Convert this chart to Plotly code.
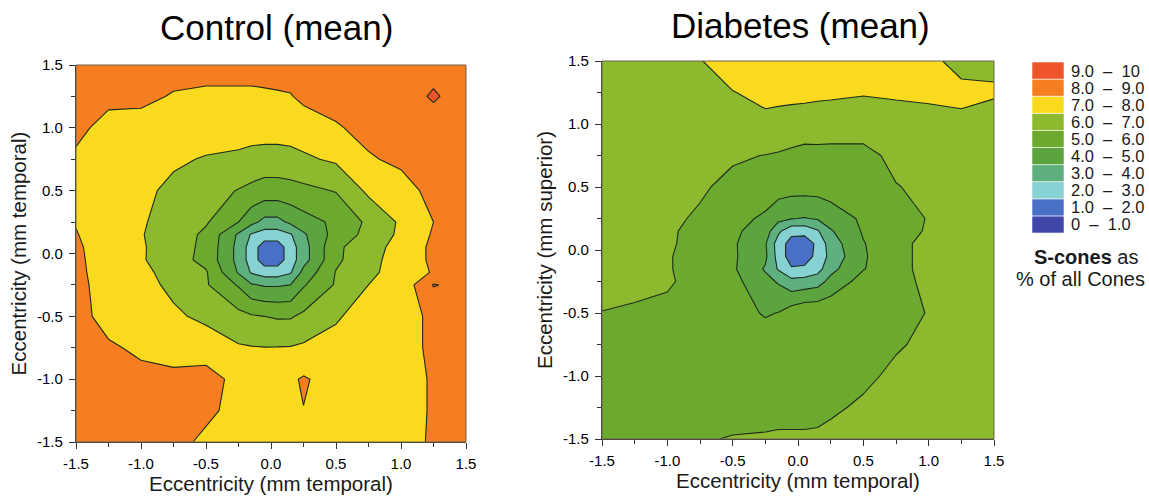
import plotly.graph_objects as go

# ---------------- data ----------------
# grid (mm); rows below are listed from the top (y = 1.5) to the bottom (y = -1.5)
X = [-1.5, -1.25, -1.0, -0.75, -0.5, -0.25, -0.15, -0.05, 0.05, 0.15, 0.25, 0.5, 0.75, 1.0, 1.25, 1.5]
Y_TOP_DOWN = [1.5, 1.25, 1.0, 0.75, 0.5, 0.25, 0.15, 0.05, -0.05, -0.15, -0.25, -0.5, -0.75, -1.0, -1.25, -1.5]

# S-cones as % of all cones, control eyes (mean)
control_pct = [
    [8.6, 8.6, 8.6, 8.5, 8.4, 8.4, 8.4, 8.4, 8.4, 8.4, 8.4, 8.5, 8.6, 8.6, 8.7, 8.6],
    [8.5, 8.3, 8.3, 7.9, 7.8, 7.8, 7.8, 7.85, 7.9, 7.95, 8.2, 8.4, 8.5, 8.6, 9.1, 8.6],
    [8.3, 7.6, 7.5, 7.4, 7.35, 7.35, 7.4, 7.5, 7.5, 7.5, 7.5, 7.9, 8.3, 8.5, 8.6, 8.6],
    [7.8, 7.5, 7.3, 7.1, 6.95, 6.85, 6.7, 6.55, 6.55, 6.65, 6.85, 7.15, 7.9, 8.2, 8.5, 8.6],
    [7.7, 7.4, 7.15, 6.85, 6.4, 5.95, 5.75, 5.6, 5.6, 5.65, 5.75, 6.05, 7.2, 7.6, 8.3, 8.6],
    [7.95, 7.4, 7.1, 6.6, 6.1, 5.0, 4.3, 3.7, 3.7, 4.2, 4.6, 5.2, 6.2, 7.15, 8.0, 8.6],
    [8.05, 7.45, 7.05, 6.55, 5.8, 3.85, 2.9, 2.5, 2.5, 2.9, 3.85, 5.4, 6.3, 7.2, 8.1, 8.6],
    [8.15, 7.5, 7.1, 6.5, 5.75, 3.7, 2.5, 1.5, 1.5, 2.5, 3.6, 5.8, 6.6, 7.35, 8.2, 8.6],
    [8.2, 7.5, 7.1, 6.45, 5.7, 3.7, 2.5, 1.5, 1.5, 2.5, 3.6, 5.8, 6.75, 7.35, 8.2, 8.6],
    [8.25, 7.5, 7.2, 6.7, 6.1, 3.9, 2.9, 2.5, 2.5, 2.9, 4.3, 6.05, 6.85, 7.3, 8.1, 8.7],
    [8.3, 7.55, 7.3, 6.8, 6.1, 4.9, 4.1, 3.9, 3.9, 4.0, 4.9, 6.1, 7.0, 7.3, 9.06, 8.7],
    [8.4, 7.6, 7.3, 7.15, 6.8, 6.3, 6.1, 6.0, 5.9, 5.9, 6.2, 6.9, 7.4, 7.6, 8.2, 8.6],
    [8.5, 8.15, 7.8, 7.5, 7.5, 7.1, 7.05, 7.02, 7.03, 7.05, 7.15, 7.3, 7.5, 7.6, 8.2, 8.6],
    [8.6, 8.5, 8.3, 8.3, 8.4, 7.7, 7.6, 7.5, 7.5, 7.85, 8.1, 7.6, 7.6, 7.6, 8.1, 8.6],
    [8.6, 8.6, 8.5, 8.4, 8.2, 7.7, 7.6, 7.5, 7.5, 7.6, 7.98, 7.6, 7.6, 7.6, 8.1, 8.6],
    [8.6, 8.6, 8.6, 8.3, 7.8, 7.6, 7.5, 7.5, 7.5, 7.5, 7.6, 7.6, 7.6, 7.7, 8.1, 8.6],
]

# S-cones as % of all cones, diabetic eyes (mean)
diabetes_pct = [
    [6.6, 6.7, 6.8, 6.97, 7.3, 7.4, 7.4, 7.4, 7.4, 7.4, 7.4, 7.4, 7.35, 7.15, 6.8, 6.8],
    [6.5, 6.55, 6.6, 6.75, 6.98, 7.15, 7.15, 7.15, 7.15, 7.1, 7.1, 7.05, 7.1, 7.15, 7.15, 7.1],
    [6.4, 6.4, 6.45, 6.5, 6.7, 6.86, 6.81, 6.76, 6.71, 6.74, 6.68, 6.6, 6.68, 6.73, 6.86, 6.6],
    [6.4, 6.35, 6.3, 6.2, 6.1, 5.98, 5.9, 5.75, 5.6, 5.6, 5.6, 5.65, 6.3, 6.3, 6.4, 6.45],
    [6.4, 6.3, 6.2, 6.1, 5.8, 5.5, 5.45, 5.4, 5.4, 5.4, 5.45, 5.6, 5.95, 6.25, 6.35, 6.45],
    [6.4, 6.3, 6.15, 5.9, 5.3, 4.85, 4.3, 4.05, 3.95, 4.1, 4.5, 5.15, 5.6, 6.05, 6.3, 6.45],
    [6.45, 6.35, 6.1, 5.8, 5.2, 4.5, 3.2, 2.3, 2.3, 2.9, 3.9, 5.1, 5.6, 6.1, 6.35, 6.45],
    [6.45, 6.3, 6.1, 5.75, 5.15, 4.1, 2.5, 1.6, 1.5, 2.2, 3.5, 4.95, 5.65, 6.35, 6.4, 6.5],
    [6.45, 6.3, 6.05, 5.75, 5.15, 4.2, 2.6, 1.5, 1.5, 2.3, 3.3, 4.9, 5.65, 6.35, 6.45, 6.5],
    [6.4, 6.3, 6.05, 5.75, 5.15, 3.9, 2.9, 2.1, 2.2, 2.6, 3.7, 4.95, 5.65, 6.35, 6.45, 6.5],
    [6.3, 6.2, 6.1, 5.7, 5.3, 4.3, 3.9, 3.3, 3.4, 3.6, 4.3, 5.4, 5.7, 6.2, 6.4, 6.5],
    [5.98, 5.9, 5.8, 5.7, 5.45, 4.9, 5.03, 5.5, 5.8, 5.8, 5.8, 5.8, 5.85, 6.02, 6.3, 6.45],
    [5.8, 5.7, 5.65, 5.6, 5.55, 5.55, 5.55, 5.55, 5.55, 5.55, 5.6, 5.7, 5.9, 6.2, 6.4, 6.5],
    [5.7, 5.65, 5.6, 5.6, 5.6, 5.6, 5.6, 5.6, 5.6, 5.6, 5.65, 5.8, 6.2, 6.35, 6.45, 6.5],
    [5.7, 5.7, 5.65, 5.65, 5.65, 5.65, 5.65, 5.65, 5.65, 5.65, 5.85, 6.15, 6.3, 6.4, 6.5, 6.5],
    [5.75, 5.8, 5.85, 5.92, 6.05, 6.1, 6.15, 6.15, 6.15, 6.2, 6.25, 6.35, 6.4, 6.45, 6.5, 6.5],
]

# contour classes (percent) and their colours, lowest first
LEVEL_START, LEVEL_END, LEVEL_STEP = 0, 10, 1
BAND_LABELS = ["0  \u2013  1.0", "1.0  \u2013  2.0", "2.0  \u2013  3.0", "3.0  \u2013  4.0", "4.0  \u2013  5.0",
               "5.0  \u2013  6.0", "6.0  \u2013  7.0", "7.0  \u2013  8.0", "8.0  \u2013  9.0", "9.0  \u2013  10"]
BAND_COLORS = ["#3F47A9", "#4A6FC6", "#86D2D2", "#5FB07F", "#5BA43E",
               "#6BAA2F", "#8CB92D", "#FADA1E", "#F57E20", "#EF552A"]

TICKS = [-1.5, -1.0, -0.5, 0.0, 0.5, 1.0, 1.5]
TICK_LABELS = ["-1.5", "-1.0", "-0.5", "0.0", "0.5", "1.0", "1.5"]
MINOR_TICKS = [-1.25, -0.75, -0.25, 0.25, 0.75, 1.25]

PANEL_TITLES = ["Control (mean)", "Diabetes (mean)"]
X_TITLES = ["Eccentricity (mm temporal)", "Eccentricity (mm temporal)"]
Y_TITLES = ["Eccentricity (mm temporal)", "Eccentricity (mm superior)"]

# ---------------- figure ----------------
W, H = 1149, 496
FONT = "Liberation Sans, Arial, Helvetica, sans-serif"

Y = Y_TOP_DOWN[::-1]
Zc = control_pct[::-1]
Zd = diabetes_pct[::-1]

# stepped colour scale matching plotly's fill mapping for levels 0..10
n_levels = int((LEVEL_END - LEVEL_START) / LEVEL_STEP) + 1
cscale = [[0.0, BAND_COLORS[0]]]
for k, col in enumerate(BAND_COLORS):
    lo = (k + 0.5) / n_levels + 1e-6
    hi = (k + 1.5) / n_levels
    cscale.append([lo, col])
    cscale.append([hi, col])
cscale.append([1.0, BAND_COLORS[-1]])

contour_common = dict(
    x=X, y=Y,
    autocontour=False,
    contours=dict(start=LEVEL_START, end=LEVEL_END, size=LEVEL_STEP,
                  coloring="fill", showlines=True),
    line=dict(color="#1E2A1E", width=1.1, smoothing=0),
    colorscale=cscale,
    showscale=False,
    hoverinfo="x+y+z",
)

fig = go.Figure()
fig.add_trace(go.Contour(z=Zc, xaxis="x", yaxis="y", **contour_common))
fig.add_trace(go.Contour(z=Zd, xaxis="x2", yaxis="y2", **contour_common))

def px_x(p):
    return p / W

def px_y(p):
    return 1 - p / H

domains = [
    dict(x=[px_x(76), px_x(466)], y=[px_y(442), px_y(65)]),
    dict(x=[px_x(602), px_x(994)], y=[px_y(439), px_y(61)]),
]

axis_common = dict(
    range=[-1.5, 1.5], tickmode="array", tickvals=TICKS, ticktext=TICK_LABELS,
    ticks="outside", ticklen=6, tickwidth=1.2, tickcolor="#333333",
    minor=dict(tickmode="array", tickvals=MINOR_TICKS, ticks="outside",
               ticklen=4, tickwidth=1.2, tickcolor="#333333"),
    showline=True, linecolor="#333333", linewidth=1.2, mirror=False,
    showgrid=False, zeroline=False, automargin=False,
    tickfont=dict(family=FONT, size=15, color="#000000"),
)

layout = dict(
    width=W, height=H,
    margin=dict(l=0, r=0, t=0, b=0, autoexpand=False),
    paper_bgcolor="white", plot_bgcolor="white",
    font=dict(family=FONT, color="#111111"),
    showlegend=False,
)
for i, d in enumerate(domains):
    sx = "" if i == 0 else str(i + 1)
    layout["xaxis" + sx] = dict(axis_common, domain=d["x"], anchor="y" + sx,
                                ticklabelstandoff=2,
                                title=dict(text=X_TITLES[i], standoff=4,
                                           font=dict(family=FONT, size=20.5, color="#1a1a1a")))
    layout["yaxis" + sx] = dict(axis_common, domain=d["y"], anchor="x" + sx,
                                ticklabelstandoff=3,
                                title=dict(text=Y_TITLES[i], standoff=4,
                                           font=dict(family=FONT, size=20.5, color="#1a1a1a")))
fig.update_layout(**layout)

# thin frame on top / right of each panel
for i in range(2):
    sx = "" if i == 0 else str(i + 1)
    fig.add_shape(type="rect", xref="x" + sx + " domain", yref="y" + sx + " domain",
                  x0=0, x1=1, y0=0, y1=1, line=dict(color="#6d6352", width=1),
                  fillcolor="rgba(0,0,0,0)", layer="above")

# panel titles
title_pos = [(276, 28), (800, 25)]
for (tx, ty), t in zip(title_pos, PANEL_TITLES):
    fig.add_annotation(text=t, x=px_x(tx), y=px_y(ty), xref="paper", yref="paper",
                       showarrow=False, xanchor="center", yanchor="middle",
                       font=dict(family=FONT, size=35, color="#000000"))

# colour key
key_x0, key_x1 = 1032, 1064
key_top, key_h = 62, 17.1
for k, (col, lab) in enumerate(zip(BAND_COLORS, BAND_LABELS)):
    top = key_top + (len(BAND_COLORS) - 1 - k) * key_h
    fig.add_shape(type="rect", xref="paper", yref="paper",
                  x0=px_x(key_x0), x1=px_x(key_x1), y0=px_y(top + key_h), y1=px_y(top),
                  fillcolor=col, line=dict(color="rgba(255,255,255,0.7)", width=0.8))
    fig.add_annotation(text=lab, x=px_x(1069), y=px_y(top + key_h / 2),
                       xref="paper", yref="paper", showarrow=False,
                       xanchor="left", yanchor="middle",
                       font=dict(family=FONT, size=16.5, color="#1a1a1a"))

fig.add_annotation(text="<b>S-cones</b> as", x=px_x(1086), y=px_y(257), xref="paper", yref="paper",
                   showarrow=False, xanchor="center", yanchor="middle",
                   font=dict(family=FONT, size=20, color="#1a1a1a"))
fig.add_annotation(text="% of all Cones", x=px_x(1080), y=px_y(279), xref="paper", yref="paper",
                   showarrow=False, xanchor="center", yanchor="middle",
                   font=dict(family=FONT, size=20, color="#1a1a1a"))

fig.write_html("out.html")
